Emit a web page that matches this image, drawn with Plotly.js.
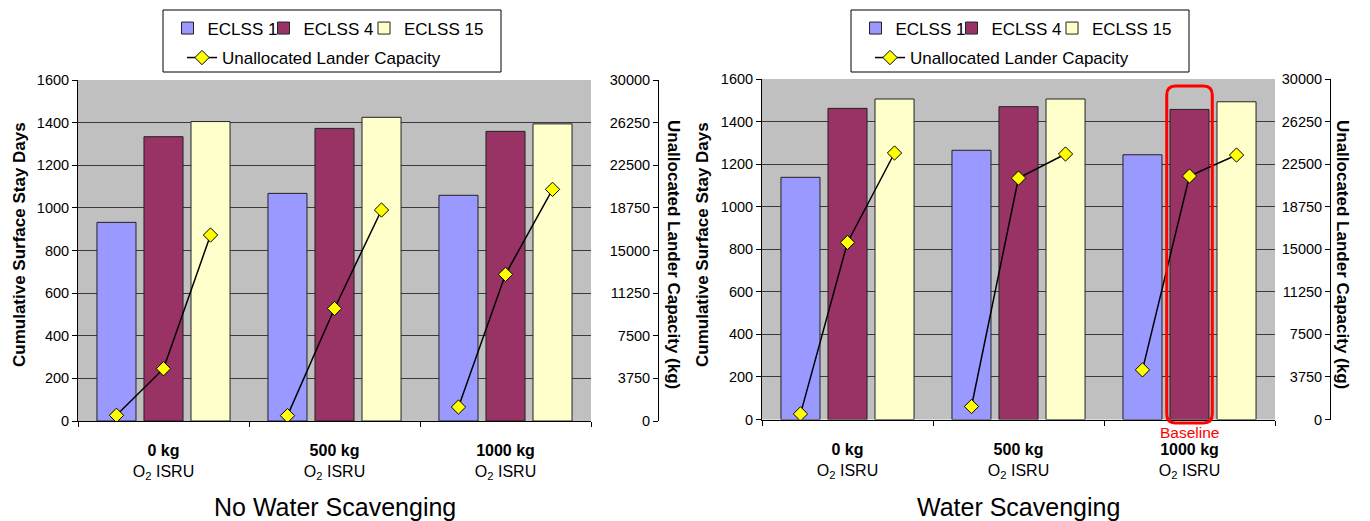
<!DOCTYPE html>
<html><head><meta charset="utf-8">
<script src="https://cdn.plot.ly/plotly-3.0.1.min.js"></script>
<style>html,body{margin:0;padding:0;background:#fff}#chart{width:1370px;height:521px}</style>
</head><body><div id="chart"></div>
<script>
// ---------------- DATA ----------------
const isruAmounts = ['0 kg', '500 kg', '1000 kg'];
const isruSuffix = 'O<sub>2</sub> ISRU';
const seriesNames = ['ECLSS 1', 'ECLSS 4', 'ECLSS 15'];
const lineName = 'Unallocated Lander Capacity';

// Cumulative surface stay days - No Water Scavenging
const noScavEclss1 = [932, 1068, 1059];
const noScavEclss4 = [1334, 1373, 1359];
const noScavEclss15 = [1405, 1425, 1394];
// Unallocated lander capacity (kg) - No Water Scavenging
const noScavCapEclss1 = [500, 470, 1230];
const noScavCapEclss4 = [4600, 9900, 12900];
const noScavCapEclss15 = [16360, 18560, 20380];

// Cumulative surface stay days - Water Scavenging
const scavEclss1 = [1138, 1265, 1244];
const scavEclss4 = [1462, 1470, 1457];
const scavEclss15 = [1506, 1506, 1493];
// Unallocated lander capacity (kg) - Water Scavenging
const scavCapEclss1 = [494, 1146, 4373];
const scavCapEclss4 = [15600, 21270, 21450];
const scavCapEclss15 = [23480, 23390, 23300];

const chartTitles = ['No Water Scavenging', 'Water Scavenging'];
const leftAxisTitle = 'Cumulative Surface Stay Days';
const rightAxisTitle = 'Unallocated Lander Capacity (kg)';
const baselineLabel = 'Baseline';
const baselineIndex = 2; // 1000 kg, ECLSS 4, water scavenging

// ---------------- STYLE ----------------
const W = 1370, H = 521;
const FONT = 'Liberation Sans, Arial, sans-serif';
const barColors = ['#9999FF', '#993366', '#FFFFCC'];
const BARGAP = 0.175, BARGROUPGAP = 0.17;
const px = v => v / W;           // x pixel -> paper
const py = v => 1 - v / H;       // y pixel -> paper

const categories = isruAmounts.map(a => '<b>' + a + '</b><br>' + isruSuffix);

const panels = [
  {bars: [noScavEclss1, noScavEclss4, noScavEclss15], caps: [noScavCapEclss1, noScavCapEclss4, noScavCapEclss15],
   xd: [78, 591], yd: [80, 421], rightLine: 658, xa: 'x', ya: 'y', ya2: 'y2', xo: 'x3',
   legends: ['legend', 'legend2', 'legend3', 'legend4'], legBox: [163, 501], leftTitleX: 20, rightTitleX: 674},
  {bars: [scavEclss1, scavEclss4, scavEclss15], caps: [scavCapEclss1, scavCapEclss4, scavCapEclss15],
   xd: [762, 1275], yd: [79, 419.5], rightLine: 1330, xa: 'x2', ya: 'y3', ya2: 'y4', xo: 'x4',
   legends: ['legend5', 'legend6', 'legend7', 'legend8'], legBox: [851, 1189], leftTitleX: 703, rightTitleX: 1343}
];
// legend item offsets relative to the legend box left edge (px), and row centres
const legSymbolX = [26.5, 122.5, 223, 41];
const legRowY = [28.5, 28.5, 28.5, 58];

const slot = (1 - BARGAP) / 3;
const traces = [];
panels.forEach(p => {
  p.bars.forEach((vals, j) => {
    traces.push({
      type: 'bar', name: seriesNames[j], x: categories, y: vals,
      xaxis: p.xa, yaxis: p.ya, legend: p.legends[j],
      marker: {color: barColors[j], line: {color: '#222', width: 1}},
      hoverinfo: 'y'
    });
  });
  const lx = [], ly = [];
  categories.forEach((c, i) => {
    p.caps.forEach((arr, j) => { lx.push(i + (j - 1) * slot); ly.push(arr[i]); });
    lx.push(null); ly.push(null);
  });
  traces.push({
    type: 'scatter', mode: 'lines+markers', name: lineName, x: lx, y: ly,
    xaxis: p.xo, yaxis: p.ya2, legend: p.legends[3], connectgaps: false,
    line: {color: '#000', width: 1.5},
    marker: {symbol: 'diamond', size: 11, color: '#FFFF00', line: {color: '#000', width: 1}}
  });
});

const tickFont = {family: FONT, size: 14.5, color: '#000'};
const layout = {
  width: W, height: H, margin: {l: 0, r: 0, t: 0, b: 0},
  paper_bgcolor: '#fff', plot_bgcolor: '#C0C0C0',
  barmode: 'group', bargap: BARGAP, bargroupgap: BARGROUPGAP,
  font: {family: FONT, color: '#000'},
  showlegend: true,
  annotations: [], shapes: []
};

panels.forEach((p, k) => {
  const xdom = [px(p.xd[0]), px(p.xd[1])];
  const ydom = [py(p.yd[1]), py(p.yd[0])];
  const xName = p.xa === 'x' ? 'xaxis' : 'xaxis' + p.xa.slice(1);
  const xoName = 'xaxis' + p.xo.slice(1);
  const yName = p.ya === 'y' ? 'yaxis' : 'yaxis' + p.ya.slice(1);
  const y2Name = 'yaxis' + p.ya2.slice(1);
  layout[xName] = {
    domain: xdom, anchor: p.ya, type: 'category', range: [-0.5, 2.5],
    tickson: 'boundaries', ticks: 'outside', ticklen: 5, tickcolor: '#000',
    showline: true, linecolor: '#000', linewidth: 1, showgrid: false, zeroline: false,
    tickfont: {family: FONT, size: 16, color: '#000'}, ticklabelstandoff: 15, fixedrange: true
  };
  layout[xoName] = {
    domain: xdom, overlaying: p.xa, anchor: p.ya, range: [-0.5, 2.5], visible: false, fixedrange: true
  };
  layout[yName] = {
    domain: ydom, anchor: p.xa, range: [0, 1600], dtick: 200, tick0: 0,
    ticks: 'outside', ticklen: 5, tickcolor: '#000', showline: true, linecolor: '#000', linewidth: 1,
    showgrid: true, gridcolor: '#3a3a3a', gridwidth: 1, zeroline: false, tickfont: tickFont, fixedrange: true
  };
  layout[y2Name] = {
    overlaying: p.ya, anchor: 'free', position: px(p.rightLine), side: 'left',
    range: [0, 30000], dtick: 3750, tick0: 0, tickformat: 'd',
    ticks: 'outside', ticklen: 5, tickcolor: '#000',
    showline: true, linecolor: '#000', linewidth: 1, showgrid: false, zeroline: false,
    tickfont: tickFont, fixedrange: true
  };
  // legends: one per entry, laid out in two rows inside a shared box
  p.legends.forEach((lg, j) => {
    layout[lg] = {
      orientation: 'h', x: px(p.legBox[0] + legSymbolX[j] - 22), xanchor: 'left',
      y: py(legRowY[j]), yanchor: 'middle',
      bgcolor: 'rgba(0,0,0,0)', borderwidth: 0,
      font: {family: FONT, size: 17, color: '#000'}
    };
  });
  layout.shapes.push({
    type: 'rect', xref: 'paper', yref: 'paper', layer: 'below',
    x0: px(p.legBox[0]), x1: px(p.legBox[1]), y0: py(72), y1: py(10),
    fillcolor: '#fff', line: {color: '#000', width: 1}
  });
  layout.annotations.push({
    text: '<b>' + leftAxisTitle + '</b>', xref: 'paper', yref: 'paper', x: px(p.leftTitleX), y: py(245),
    xanchor: 'center', yanchor: 'middle',
    textangle: -90, showarrow: false, font: {family: FONT, size: 17, color: '#000'}
  });
  layout.annotations.push({
    text: '<b>' + rightAxisTitle + '</b>', xref: 'paper', yref: 'paper', x: px(p.rightTitleX), y: py(254),
    xanchor: 'center', yanchor: 'middle',
    textangle: 90, showarrow: false, font: {family: FONT, size: 17, color: '#000'}
  });
  layout.annotations.push({
    text: chartTitles[k], xref: 'paper', yref: 'paper', x: (xdom[0] + xdom[1]) / 2, y: py(507),
    xanchor: 'center', yanchor: 'middle', showarrow: false, font: {family: FONT, size: 25, color: '#000'}
  });
});

// Baseline highlight (rounded red box around the ECLSS 4 bar at 1000 kg, water scavenging)
(function () {
  const barHalf = slot * (1 - BARGROUPGAP) / 2;
  const pad = 0.019;
  const cx = baselineIndex + 0 * slot;
  const x0 = cx - barHalf - pad, x1 = cx + barHalf + pad;
  const y1 = py(86), y0 = py(423);
  const rx = 0.05, ry = 9 / H;
  const path = `M ${x0 + rx},${y1} L ${x1 - rx},${y1} Q ${x1},${y1} ${x1},${y1 - ry} L ${x1},${y0 + ry} Q ${x1},${y0} ${x1 - rx},${y0} L ${x0 + rx},${y0} Q ${x0},${y0} ${x0},${y0 + ry} L ${x0},${y1 - ry} Q ${x0},${y1} ${x0 + rx},${y1} Z`;
  layout.shapes.push({type: 'path', xref: 'x4', yref: 'paper', layer: 'above', path: path,
    line: {color: '#FF0000', width: 3}, fillcolor: 'rgba(0,0,0,0)'});
  layout.annotations.push({text: baselineLabel, xref: 'x4', yref: 'paper', x: cx, y: py(432),
    xanchor: 'center', yanchor: 'middle', showarrow: false, font: {family: FONT, size: 15.5, color: '#FF0000'}});
})();

Plotly.newPlot('chart', traces, layout, {displayModeBar: false, staticPlot: true});
</script>
</body></html>
